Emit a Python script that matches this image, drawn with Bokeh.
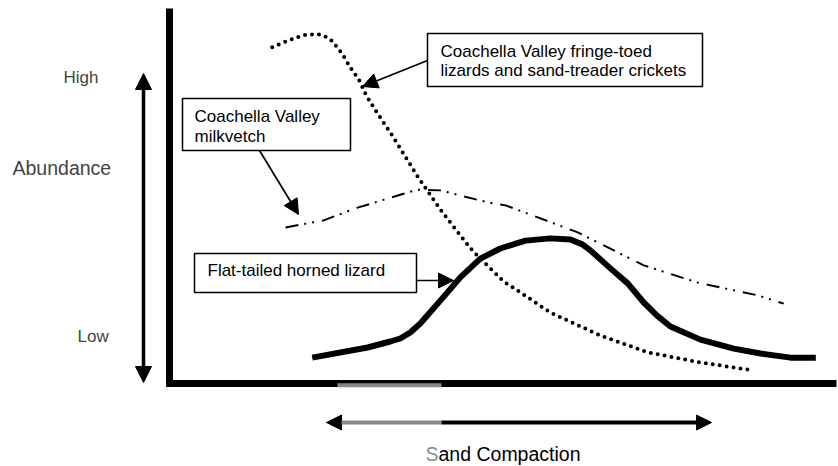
from bokeh.plotting import figure
from bokeh.models import Range1d, Label, Arrow, NormalHead, BoxAnnotation
from bokeh.embed import file_html
from bokeh.resources import INLINE

# ---------------- data (compaction 0-100, abundance 0-100) ----------------
comp_dotted = [15.4, 17.6, 19.9, 21.1, 22.4, 23.4, 24.4, 25.9, 27.1, 28.4, 29.5, 30.9,
               33.4, 37.2, 40.6, 45.0, 46.6, 50.1, 52.2, 57.1, 64.6, 71.7, 79.6, 86.8]
abund_dotted = [89.7, 91.3, 92.8, 93.1, 93.1, 92.5, 91.3, 87.9, 84.3, 81.0, 76.8, 72.8,
                66.1, 55.2, 46.4, 36.3, 33.3, 27.2, 24.8, 18.9, 12.8, 8.3, 5.6, 3.7]

comp_milkvetch = [17.4, 23.1, 28.2, 32.7, 37.2, 40.6, 47.7, 50.4, 61.2, 71.1, 79.2, 88.2, 92.1]
abund_milkvetch = [41.6, 43.5, 46.9, 49.3, 51.7, 51.5, 48.3, 47.5, 40.3, 31.5, 26.9, 23.5, 21.3]

comp_horned = [21.4, 29.7, 33.1, 34.6, 36.1, 37.6, 40.6, 43.6, 46.6, 49.6, 51.9, 53.4, 57.1,
               60.1, 61.9, 63.1, 64.6, 66.1, 68.7, 71.1, 73.1, 75.1, 79.6, 84.6, 88.6, 93.1, 96.9]
abund_horned = [6.9, 9.6, 11.2, 12.0, 13.6, 16.0, 22.1, 28.3, 33.3, 36.0, 37.3, 38.1, 38.7,
                38.4, 37.1, 35.5, 33.1, 30.7, 26.7, 21.6, 18.1, 15.2, 11.7, 9.3, 8.0, 6.9, 6.9]

y_tick_labels = ["High", "Low"]
y_title = "Abundance"
x_title_first = "S"
x_title_rest = "and Compaction"
box_texts = [
    ["Coachella Valley fringe-toed", "lizards and sand-treader crickets"],
    ["Coachella Valley", "milkvetch"],
    ["Flat-tailed horned lizard"],
]

# ---------------- layout ----------------
W, H = 838, 466
FONT = "Liberation Sans"
X0_PX, SX = 169.0, 6.67      # pixel of compaction 0, px per unit
Y0_PX, SY = 383.0, 3.75      # pixel of abundance 0, px per unit
DY = -6                      # text baseline correction

p = figure(width=W, height=H, x_range=Range1d(0, W), y_range=Range1d(H, 0),
           output_backend="svg", toolbar_location=None, min_border=0,
           x_axis_location=None, y_axis_location=None)
p.grid.visible = False
p.outline_line_color = None
p.background_fill_color = "white"
p.border_fill_color = "white"

p.extra_x_ranges = {"comp": Range1d((0 - X0_PX) / SX, (W - X0_PX) / SX)}
p.extra_y_ranges = {"abund": Range1d((Y0_PX - H) / SY, Y0_PX / SY)}

# axes (thick frame lines)
p.segment(x0=[0, -0.5], y0=[-0.2, 0], x1=[0, 100], y1=[100, 0],
          x_range_name="comp", y_range_name="abund",
          line_color="black", line_width=7)
# grey part of the x axis
p.segment(x0=[337], y0=[384.7], x1=[441], y1=[384.7], line_color="#888888", line_width=4)

# curves
p.line(comp_horned, abund_horned, x_range_name="comp", y_range_name="abund",
       line_color="black", line_width=6, line_join="round", line_cap="butt")
p.line(comp_milkvetch, abund_milkvetch, x_range_name="comp", y_range_name="abund",
       line_color="black", line_width=2, line_dash="13 6 2 6 2 8")
p.line(comp_dotted, abund_dotted, x_range_name="comp", y_range_name="abund",
       line_color="black", line_width=4, line_dash="0 7", line_cap="round")

# boxes
boxes = [(427, 702, 33, 86), (182, 350, 98, 150), (194, 416, 253, 292)]
for (l, r, t, b) in boxes:
    p.add_layout(BoxAnnotation(left=l, right=r, top=t, bottom=b, fill_color="white",
                               fill_alpha=1.0, line_color="black", line_width=1.5,
                               line_alpha=1.0))

text_pos = [(440, [56.7, 76.0]), (194, [121.7, 141.7]), (207, [276.0])]
for lines, (tx, tys) in zip(box_texts, text_pos):
    for line, ty in zip(lines, tys):
        p.add_layout(Label(x=tx, y=ty + DY, text=line, text_font=FONT, text_font_size="17px",
                           text_baseline="alphabetic", text_color="black"))

# callout arrows
callouts = [((427, 60), (362, 86)), ((259, 150), (298, 214)), ((416, 280), (453, 280))]
for (xs, ys), (xe, ye) in callouts:
    p.add_layout(Arrow(x_start=xs, y_start=ys, x_end=xe, y_end=ye, line_width=1.7,
                       line_color="black",
                       end=NormalHead(size=15, fill_color="black", line_color="black",
                                      line_width=1)))

# vertical double arrow (abundance)
p.add_layout(Arrow(x_start=143, y_start=73, x_end=143, y_end=382, line_width=3.5,
                   line_color="black",
                   start=NormalHead(size=16, fill_color="black", line_color="black", line_width=1),
                   end=NormalHead(size=16, fill_color="black", line_color="black", line_width=1)))

# horizontal double arrow (sand compaction), grey then black
p.add_layout(Arrow(x_start=326, y_start=422, x_end=441, y_end=422, line_width=4,
                   line_color="#888888",
                   start=NormalHead(size=15, fill_color="black", line_color="black", line_width=1),
                   end=None))
p.add_layout(Arrow(x_start=441, y_start=422, x_end=711, y_end=422, line_width=4,
                   line_color="black",
                   end=NormalHead(size=15, fill_color="black", line_color="black", line_width=1)))

# axis labels
p.add_layout(Label(x=63, y=82.7 + DY, text=y_tick_labels[0], text_font=FONT,
                   text_font_size="17px", text_baseline="alphabetic"))
p.add_layout(Label(x=77, y=341.7 + DY, text=y_tick_labels[1], text_font=FONT,
                   text_font_size="17px", text_baseline="alphabetic"))
p.add_layout(Label(x=12, y=173.3 + DY, text=y_title, text_font=FONT, text_font_size="19.5px",
                   text_baseline="alphabetic"))
p.add_layout(Label(x=425, y=459 + DY, text=x_title_first, text_font=FONT,
                   text_font_size="19.5px", text_baseline="alphabetic", text_color="#8c8c8c"))
p.add_layout(Label(x=438, y=459 + DY, text=x_title_rest, text_font=FONT,
                   text_font_size="19.5px", text_baseline="alphabetic", text_color="black"))

open("out.html", "w").write(file_html(p, INLINE))
